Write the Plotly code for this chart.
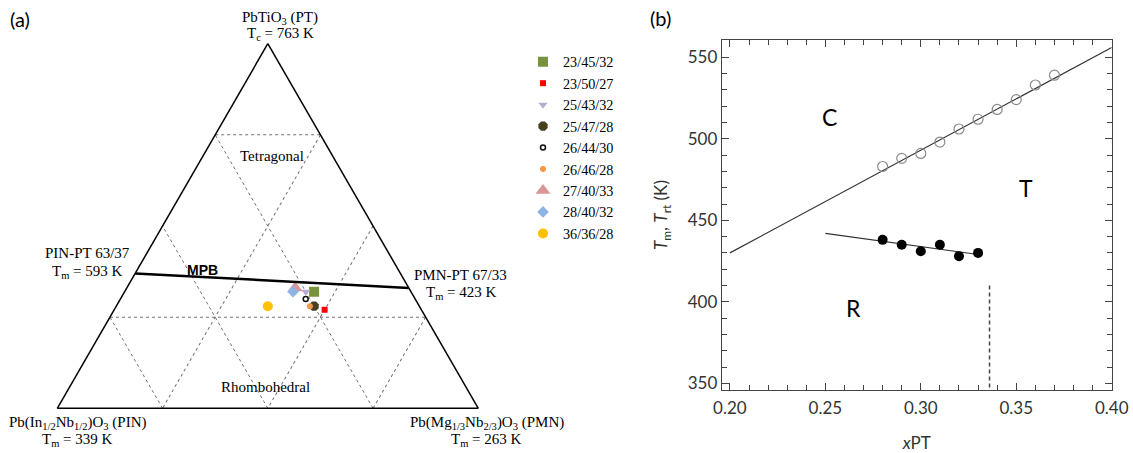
import plotly.graph_objects as go

W, H = 1133, 453

# ---------------- (a) ternary compositions: PIN / PMN / PT (mol %) ----------------
comp_labels = ["23/45/32", "23/50/27", "25/43/32", "25/47/28", "26/44/30",
               "26/46/28", "27/40/33", "28/40/32", "36/36/28"]
pin = [23, 23, 25, 25, 26, 26, 27, 28, 36]
pmn = [45, 50, 43, 47, 44, 46, 40, 40, 36]
pt = [32, 27, 32, 28, 30, 28, 33, 32, 28]
comp_colors = ["#77933C", "#FF0000", "#B9ABD0", "#45401F", "#111111",
               "#F79646", "#D99694", "#8DB4E2", "#FFC000"]
comp_symbols = ["square", "square", "triangle-down", "octagon", "circle-open",
                "circle", "triangle-up", "diamond", "circle"]
comp_sizes = [10, 6, 8, 10, 5, 6, 13, 9, 10]

# morphotropic phase boundary between the two binary end points
mpb_pin = [63, 0]
mpb_pmn = [0, 67]
mpb_pt = [37, 33]

# ---------------- (b) PIN-PMN-PT phase diagram vs xPT ----------------
x_tm = [0.28, 0.29, 0.30, 0.31, 0.32, 0.33, 0.34, 0.35, 0.36, 0.37]
t_m = [483, 488, 491, 498, 506, 512, 518, 524, 533, 539]
x_rt = [0.28, 0.29, 0.30, 0.31, 0.32, 0.33]
t_rt = [438, 435, 431, 435, 428, 430]
tm_line_x = [0.20, 0.40]
tm_line_y = [430, 556]
rt_line_x = [0.25, 0.33]
rt_line_y = [442, 429]
mpb_x = [0.336, 0.336]
mpb_y = [410, 346]

SERIF = "Liberation Serif"
SANS = "Lato"


def px(x, y):
    return x / W, 1 - y / H


fig = go.Figure()

for lab, a, b, c, col, sym, sz in zip(comp_labels, pt, pin, pmn, comp_colors,
                                      comp_symbols, comp_sizes):
    fig.add_trace(go.Scatterternary(
        a=[a], b=[b], c=[c], mode="markers", name=lab, legendgroup=lab,
        marker=dict(symbol=sym, size=sz, color=col,
                    line=dict(width=1.5 if sym.endswith("open") else 0, color=col)),
        subplot="ternary"))

fig.add_trace(go.Scatterternary(
    a=mpb_pt, b=mpb_pin, c=mpb_pmn, mode="lines", showlegend=False,
    line=dict(color="black", width=2.5), subplot="ternary"))

# right panel
fig.add_trace(go.Scatter(x=tm_line_x, y=tm_line_y, mode="lines", showlegend=False,
                         line=dict(color="#333333", width=1.2)))
fig.add_trace(go.Scatter(x=rt_line_x, y=rt_line_y, mode="lines", showlegend=False,
                         line=dict(color="#333333", width=1.2)))
fig.add_trace(go.Scatter(x=x_tm, y=t_m, mode="markers", showlegend=False,
                         marker=dict(symbol="circle-open", size=10, color="#8a8a8a",
                                     line=dict(width=1.2, color="#8a8a8a"))))
fig.add_trace(go.Scatter(x=x_rt, y=t_rt, mode="markers", showlegend=False,
                         marker=dict(symbol="circle", size=10, color="black")))
fig.add_trace(go.Scatter(x=mpb_x, y=mpb_y, mode="lines", showlegend=False,
                         line=dict(color="#444444", width=1.5, dash="4px,3px")))

grid = dict(showgrid=True, gridcolor="#707070", griddash="3px,3px", gridwidth=1,
            showticklabels=False, ticks="", showline=True, linecolor="black",
            linewidth=1.5, title=dict(text=""), tickmode="array")

tern_x0, tern_x1 = 57.3, 478.3
tern_yb = 408.3
tern_h = (tern_x1 - tern_x0) * 3 ** 0.5 / 2

ax_common = dict(showline=True, linecolor="#444444", linewidth=1, mirror="ticks",
                 ticks="inside", ticklen=7, tickcolor="#444444", zeroline=False,
                 showgrid=False, automargin=False,
                 tickfont=dict(family=SANS, size=17, color="#333333"))

fig.update_layout(
    template="none",
    width=W, height=H, margin=dict(l=0, r=0, t=0, b=0, autoexpand=False),
    paper_bgcolor="white", plot_bgcolor="white",
    ternary=dict(
        sum=100, bgcolor="white",
        domain=dict(x=[tern_x0 / W, tern_x1 / W],
                    y=[1 - tern_yb / H, 1 - (tern_yb - tern_h) / H]),
        aaxis=dict(grid, tickvals=[25, 75]),
        baxis=dict(grid, tickvals=[25, 50, 75]),
        caxis=dict(grid, tickvals=[25, 50, 75]),
    ),
    xaxis=dict(ax_common, domain=[721.7 / W, 1111.7 / W], range=[0.1957, 0.4],
               tickvals=[0.20, 0.25, 0.30, 0.35, 0.40], tickformat=".2f",
               ticklabelstandoff=3,
               minor=dict(dtick=0.01, ticks="inside", ticklen=5, tickcolor="#444444"),
               title=dict(text="<i>x</i>PT", font=dict(family=SANS, size=17, color="#333333"),
                          standoff=19)),
    yaxis=dict(ax_common, domain=[1 - 390 / H, 1 - 40 / H], range=[345.9, 560.6],
               tickvals=[350, 400, 450, 500, 550],
               minor=dict(dtick=10, ticks="inside", ticklen=5, tickcolor="#444444"),
               title=dict(text="<i>T</i><sub>m</sub>, <i>T</i><sub>rt</sub> (K)",
                          font=dict(family=SANS, size=17, color="#333333"), standoff=15)),
    legend=dict(x=523 / W, y=1 - 46 / H, xanchor="left", yanchor="top",
                traceorder="grouped", tracegroupgap=0,
                font=dict(family=SERIF, size=14.2, color="black"),
                bgcolor="rgba(0,0,0,0)"),
    showlegend=True,
)

notes = [
    ("(a)", 20, 19, SANS, 20),
    ("(b)", 660, 18, SANS, 20),
    ("PbTiO<sub>3</sub> (PT)", 280, 18, SERIF, 15),
    ("T<sub>c</sub> = 763 K", 280, 34, SERIF, 15),
    ("PIN-PT 63/37", 88, 253, SERIF, 15),
    ("T<sub>m</sub> = 593 K", 88, 272, SERIF, 15),
    ("PMN-PT 67/33", 460, 275, SERIF, 15),
    ("T<sub>m</sub> = 423 K", 461, 292.5, SERIF, 15),
    ("Pb(In<sub>1/2</sub>Nb<sub>1/2</sub>)O<sub>3</sub> (PIN)", 77.5, 423, SERIF, 15),
    ("T<sub>m</sub> = 339 K", 77.5, 440, SERIF, 15),
    ("Pb(Mg<sub>1/3</sub>Nb<sub>2/3</sub>)O<sub>3</sub> (PMN)", 487, 423, SERIF, 15),
    ("T<sub>m</sub> = 263 K", 486, 440, SERIF, 15),
    ("Tetragonal", 272, 156, SERIF, 15),
    ("Rhombohedral", 265, 386.5, SERIF, 15),
    ("<b>MPB</b>", 202.5, 270, "Liberation Sans", 14),
]
for txt, x, y, fam, size in notes:
    xx, yy = px(x, y)
    fig.add_annotation(text=txt, x=xx, y=yy, xref="paper", yref="paper",
                       xanchor="center", yanchor="middle", showarrow=False,
                       font=dict(family=fam, size=size, color="black"))

for txt, x, y in [("C", 0.2524, 513.6), ("T", 0.3553, 469.6), ("R", 0.2646, 396)]:
    fig.add_annotation(text=txt, x=x, y=y, xref="x", yref="y", showarrow=False,
                       xanchor="center", yanchor="middle",
                       font=dict(family=SANS, size=23, color="black"))

fig.write_html("out.html")
